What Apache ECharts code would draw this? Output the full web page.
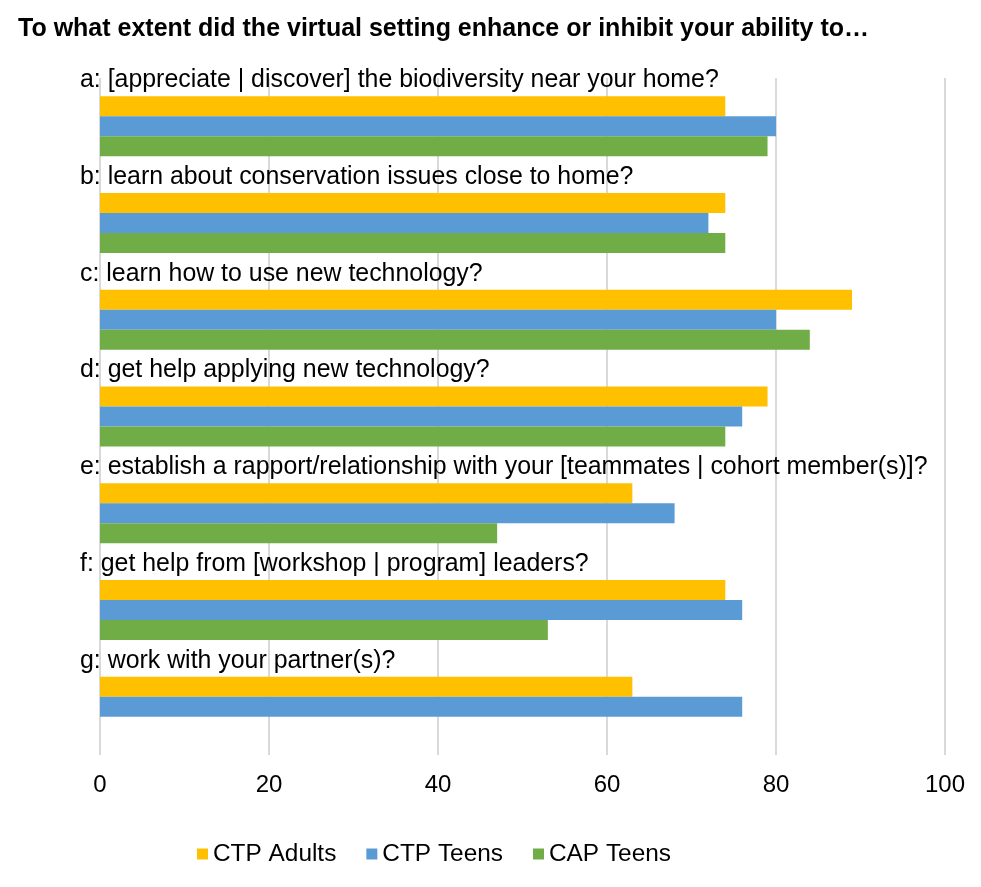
<!DOCTYPE html>
<html>
<head>
<meta charset="utf-8">
<script src="https://cdn.jsdelivr.net/npm/echarts@6/dist/echarts.min.js"></script>
<style>html,body{margin:0;padding:0;background:#fff;}#c{width:981px;height:887px;}</style>
</head>
<body>
<div id="c"></div>
<script>
const titleText = 'To what extent did the virtual setting enhance or inhibit your ability to…';
const categories = [
  'a: [appreciate | discover] the biodiversity near your home?',
  'b: learn about conservation issues close to home?',
  'c: learn how to use new technology?',
  'd: get help applying new technology?',
  'e: establish a rapport/relationship with your [teammates | cohort member(s)]?',
  'f: get help from [workshop | program] leaders?',
  'g: work with your partner(s)?'
];
const seriesNames = ['CTP Adults', 'CTP Teens', 'CAP Teens'];
const ctpAdults = [74, 74, 89, 79, 63, 74, 63];
const ctpTeens  = [80, 72, 80, 76, 68, 76, 76];
const capTeens  = [79, 74, 84, 74, 47, 53, null];
const xTicks = [0, 20, 40, 60, 80, 100];
const colors = ['#FFC000', '#5B9BD5', '#70AD47'];

const font = 'Liberation Sans, Arial, sans-serif';
const chart = echarts.init(document.getElementById('c'), null, {renderer: 'canvas'});
const dataSets = [ctpAdults, ctpTeens, capTeens];
chart.setOption({
  animation: false,
  backgroundColor: '#fff',
  title: {
    text: titleText,
    left: 13, top: 12,
    textStyle: {fontFamily: font, fontSize: 25, fontWeight: 'bold', color: '#000'}
  },
  legend: {
    data: seriesNames,
    left: 192, top: 837,
    itemWidth: 11, itemHeight: 11, itemGap: 30,
    icon: 'rect',
    textStyle: {fontFamily: font, fontSize: 24.4, color: '#000'}
  },
  grid: {left: 100, right: 36, top: 78, bottom: 132, containLabel: false},
  xAxis: {
    type: 'value', min: xTicks[0], max: xTicks[xTicks.length-1], interval: xTicks[1]-xTicks[0],
    axisLine: {show: false}, axisTick: {show: false},
    axisLabel: {fontFamily: font, fontSize: 24, color: '#000', margin: 18},
    splitLine: {show: true, lineStyle: {color: '#d9d9d9', width: 2}}
  },
  yAxis: {
    type: 'category', data: categories, inverse: true,
    axisLine: {show: false}, axisTick: {show: false},
    axisLabel: {show: false},
    splitLine: {show: false}
  },
  series: seriesNames.map((n, i) => ({
    name: n, type: 'bar', data: dataSets[i],
    barWidth: 20, barGap: '0%',
    itemStyle: {color: colors[i]},
    label: i === 0 ? {
      show: true, position: 'insideLeft', distance: 0, offset: [-20, -26],
      formatter: p => categories[p.dataIndex],
      fontFamily: font, fontSize: 24.9, color: '#000'
    } : {show: false}
  }))
});
</script>
</body>
</html>
